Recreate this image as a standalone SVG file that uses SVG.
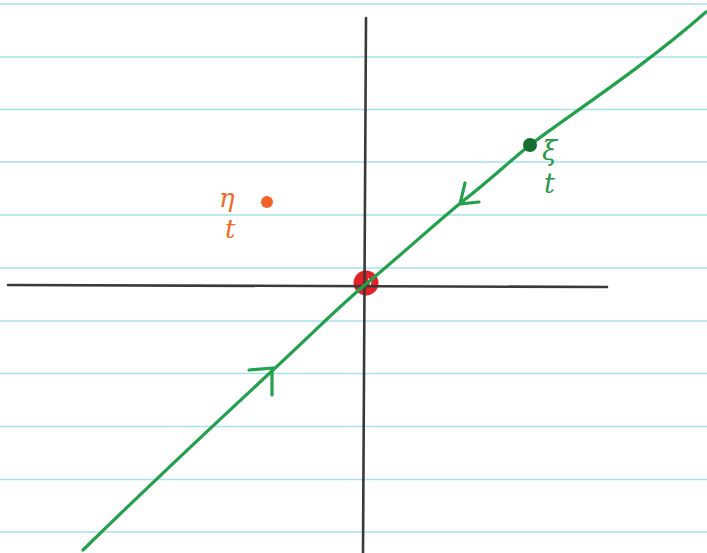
<svg xmlns="http://www.w3.org/2000/svg" width="707" height="553" viewBox="0 0 707 553">
<style>
.rule{stroke:#a9e1ea;stroke-width:1.6;fill:none}
.axis{stroke:#3a3a3a;stroke-width:2.6;fill:none;stroke-linecap:round}
.curve{stroke:#22a04c;stroke-width:3.2;fill:none;stroke-linecap:round;stroke-linejoin:round}
.lblg{font-family:"DejaVu Serif",serif;font-style:italic;fill:#2b984a;font-size:27px}
.lblo{font-family:"DejaVu Serif",serif;font-style:italic;fill:#f06a2a;font-size:26px}
</style>
<rect width="707" height="553" fill="#ffffff"/>
<g id="paper">
<path class="rule" d="M0,4H707M0,57H707M0,109.5H707M0,162H707M0,215H707M0,268H707M0,321H707M0,373.5H707M0,426.5H707M0,479.5H707M0,532H707"/>
</g>
<g id="origin">
<circle cx="366" cy="283" r="12.5" fill="#e42126"/>
<path d="M368,279 a4,4 0 0 1 2,6" stroke="#ffffff" stroke-width="1.5" fill="none"/>
</g>
<g id="axes">
<path class="axis" d="M366,18 L363,553"/>
<path class="axis" d="M8,285 L607,287"/>
</g>
<g id="connectors">
<path class="curve" d="M83,550 C170,465 230,410 273,370 C310,336 335,310 366,284 C400,256 430,228 463,201 C490,180 510,161 530,145 C565,118 640,70 706,12"/>
<path class="curve" d="M249,370 L273,368 M272,370 L272,395"/>
<path class="curve" d="M465,183 L460,204 L479,202"/>
</g>
<g id="xi">
<circle cx="530" cy="145" r="7" fill="#146f32"/>
<text class="lblg" x="542" y="160">ξ</text>
<text class="lblg" x="544" y="193">t</text>
</g>
<g id="eta">
<circle cx="267" cy="202" r="6" fill="#f2642a"/>
<text class="lblo" x="219" y="207">η</text>
<text class="lblo" x="225" y="238">t</text>
</g>
</svg>
